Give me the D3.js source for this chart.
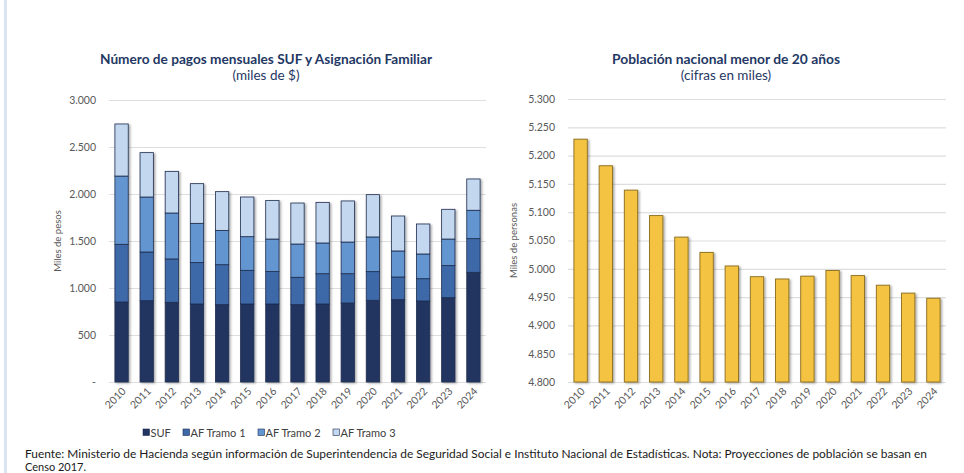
<!DOCTYPE html>
<html>
<head>
<meta charset="utf-8">
<script src="https://cdn.jsdelivr.net/npm/d3@7.9.0/dist/d3.min.js"></script>
<style>
  html, body { margin: 0; padding: 0; background: #fff; }
  svg { display: block; font-family: Lato, "Open Sans", sans-serif; }
</style>
</head>
<body>
<svg id="chart" width="964" height="473"></svg>
<script>
const years = ['2010','2011','2012','2013','2014','2015','2016','2017','2018','2019','2020','2021','2022','2023','2024'];

// pagos mensuales (miles de $)
const suf    = [851, 865, 848, 830, 823, 830, 830, 823, 830, 840, 869, 876, 862, 897, 1167];
const tramo1 = [614, 518, 461, 440, 425, 358, 345, 291, 322, 312, 305, 241, 237, 341, 358];
const tramo2 = [726, 585, 489, 418, 365, 358, 346, 354, 327, 337, 369, 277, 263, 283, 302];
const tramo3 = [554, 472, 443, 422, 412, 422, 409, 436, 432, 437, 450, 372, 319, 316, 333];
const seriesNames = ['SUF', 'AF Tramo 1', 'AF Tramo 2', 'AF Tramo 3'];
const seriesColors = ['#223560', '#3d69a8', '#6395d0', '#c3d7ee'];
const leftTicks = [0, 500, 1000, 1500, 2000, 2500, 3000];

// población menor de 20 años (miles)
const poblacion = [5229, 5182, 5139, 5094, 5056, 5029, 5005, 4986, 4982, 4987, 4997, 4988, 4971, 4957, 4948];
const rightTicks = [4800, 4850, 4900, 4950, 5000, 5050, 5100, 5150, 5200, 5250, 5300];

const svg = d3.select('#chart');
const fmt = d3.formatLocale({ decimal: ',', thousands: '.', grouping: [3] }).format(',.0f');

// shadow for bars
const defs = svg.append('defs');
defs.append('filter').attr('id', 'shadow')
    .attr('x', '-30%').attr('y', '-10%').attr('width', '160%').attr('height', '130%')
  .append('feDropShadow')
    .attr('dx', 1.5).attr('dy', 1).attr('stdDeviation', 0.9)
    .attr('flood-color', '#000').attr('flood-opacity', 0.35);

// left border stripe
svg.append('rect').attr('x', 4).attr('y', 0).attr('width', 3).attr('height', 473).attr('fill', '#dbe2f1');

function drawFrame(cfg) {
  const g = svg.append('g');
  const x = d3.scaleBand().domain(years).range([cfg.x0, cfg.x1]).paddingInner(0.47).paddingOuter(0.235);
  const y = d3.scaleLinear().domain(cfg.domain).range([cfg.yb, cfg.yt]);

  g.append('text').attr('x', cfg.cx).attr('y', 64).attr('text-anchor', 'middle')
    .attr('font-size', 13.5).attr('font-weight', 700).attr('fill', '#1f3864')
    .attr('textLength', cfg.titleW).attr('lengthAdjust', 'spacingAndGlyphs').text(cfg.title);
  g.append('text').attr('x', cfg.cx).attr('y', 80).attr('text-anchor', 'middle')
    .attr('font-size', 13.5).attr('fill', '#1f3864').text(cfg.subtitle);

  const yAxis = d3.axisLeft(y).tickValues(cfg.ticks).tickSize(-(cfg.x1 - cfg.x0))
    .tickFormat(cfg.tickFormat);
  const ya = g.append('g').attr('transform', `translate(${cfg.x0},0)`).call(yAxis);
  ya.select('.domain').remove();
  ya.selectAll('.tick line').attr('stroke', '#dedede').attr('stroke-width', 1.2);
  ya.selectAll('.tick text').attr('x', -13).attr('font-size', 10.5).attr('fill', '#595959')
    .attr('font-family', 'Lato, sans-serif');

  const xAxis = d3.axisBottom(x).tickSize(0);
  const xa = g.append('g').attr('transform', `translate(0,${cfg.yb})`).call(xAxis);
  xa.select('.domain').remove();
  xa.selectAll('.tick text')
    .attr('font-size', 10.5).attr('fill', '#595959').attr('font-family', 'Lato, sans-serif')
    .attr('text-anchor', 'end').attr('dy', 0).attr('y', 0)
    .attr('transform', 'translate(5,10) rotate(-45)');

  g.append('text')
    .attr('transform', `translate(${cfg.labelX},${(cfg.yt + cfg.yb) / 2}) rotate(-90)`)
    .attr('text-anchor', 'middle').attr('font-size', 9.5).attr('fill', '#595959')
    .text(cfg.yLabel);

  return { g, x, y };
}

// ---- left chart: stacked bars ----
const left = drawFrame({
  x0: 109, x1: 486, yb: 382, yt: 100, domain: [0, 3000], ticks: leftTicks,
  cx: 266, titleW: 332, title: 'Número de pagos mensuales SUF y Asignación Familiar', subtitle: '(miles de $)',
  tickFormat: d => d === 0 ? '-' : fmt(d), labelX: 61, yLabel: 'Miles de pesos'
});

const stackData = years.map((yr, i) => ({ year: yr, s0: suf[i], s1: tramo1[i], s2: tramo2[i], s3: tramo3[i] }));
const stacked = d3.stack().keys(['s0', 's1', 's2', 's3'])(stackData);

const barsL = left.g.append('g').attr('filter', 'url(#shadow)');
stacked.forEach((layer, k) => {
  barsL.selectAll(null).data(layer).join('rect')
    .attr('x', d => left.x(d.data.year))
    .attr('width', left.x.bandwidth())
    .attr('y', d => left.y(d[1]))
    .attr('height', d => left.y(d[0]) - left.y(d[1]))
    .attr('fill', seriesColors[k])
    .attr('stroke', '#1e2d4f').attr('stroke-width', 0.8);
});

// legend
const legendX = [143, 183, 258, 333];
const lg = left.g.append('g');
seriesNames.forEach((name, k) => {
  lg.append('rect').attr('x', legendX[k]).attr('y', 429).attr('width', 6.5).attr('height', 6.5)
    .attr('fill', seriesColors[k]).attr('stroke', '#1e2d4f').attr('stroke-width', 0.6);
  lg.append('text').attr('x', legendX[k] + 7.5).attr('y', 436.5).attr('font-size', 11)
    .attr('fill', '#404040').text(name);
});

// ---- right chart: population bars ----
const right = drawFrame({
  x0: 568, x1: 946, yb: 382, yt: 99, domain: [4800, 5300], ticks: rightTicks,
  cx: 726, titleW: 228, title: 'Población nacional menor de 20 años', subtitle: '(cifras en miles)',
  tickFormat: d => fmt(d), labelX: 517, yLabel: 'Miles de personas'
});

right.g.append('g').attr('filter', 'url(#shadow)')
  .selectAll('rect').data(poblacion).join('rect')
    .attr('x', (d, i) => right.x(years[i]))
    .attr('width', right.x.bandwidth())
    .attr('y', d => right.y(d))
    .attr('height', d => right.y(4800) - right.y(d))
    .attr('fill', '#f4c342')
    .attr('stroke', '#8a6d1c').attr('stroke-width', 0.9);

// footer
svg.append('text').attr('x', 25).attr('y', 458).attr('font-size', 11).attr('fill', '#1a1a1a')
  .attr('textLength', 902).attr('lengthAdjust', 'spacingAndGlyphs')
  .text('Fuente: Ministerio de Hacienda según información de Superintendencia de Seguridad Social e Instituto Nacional de Estadísticas. Nota: Proyecciones de población se basan en');
svg.append('text').attr('x', 25).attr('y', 471).attr('font-size', 11).attr('fill', '#1a1a1a')
  .attr('textLength', 61).attr('lengthAdjust', 'spacingAndGlyphs')
  .text('Censo 2017.');
</script>
</body>
</html>
